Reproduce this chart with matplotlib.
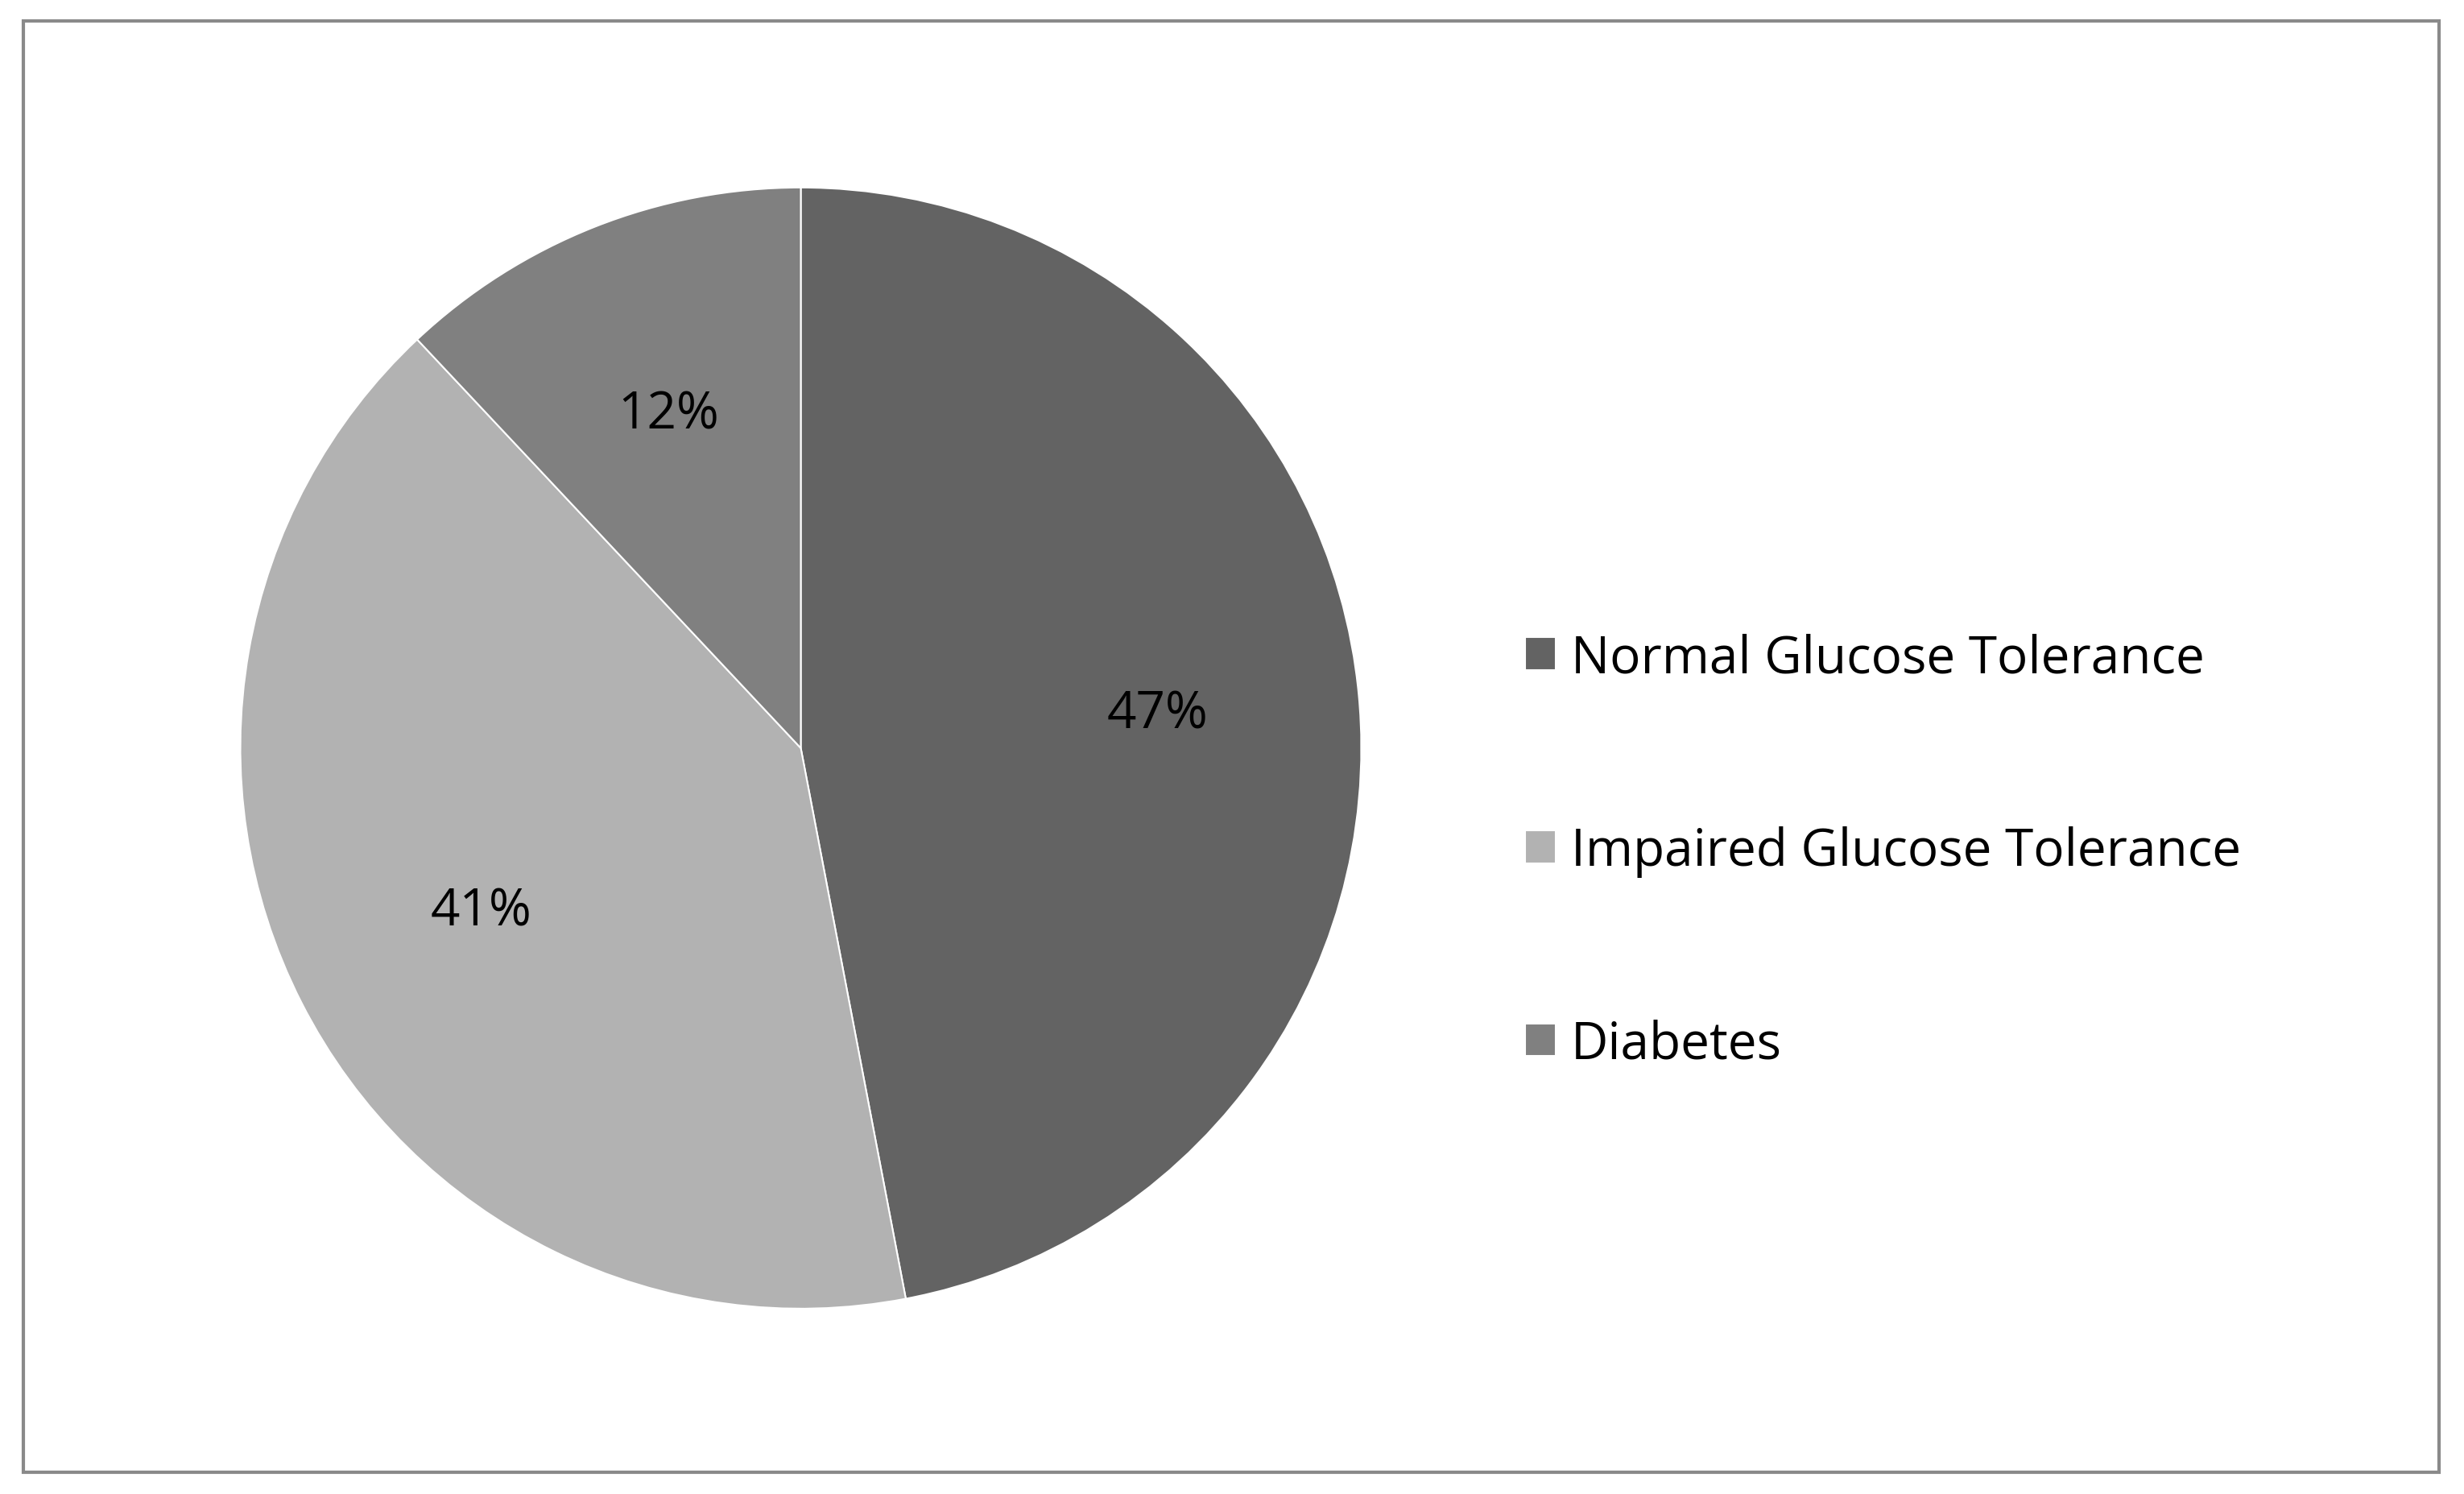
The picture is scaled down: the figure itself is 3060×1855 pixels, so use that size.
import matplotlib.pyplot as plt
from matplotlib.patches import Rectangle

labels = ['Normal Glucose Tolerance', 'Impaired Glucose Tolerance', 'Diabetes']
values = [47, 41, 12]
colors = ['#636363', '#b2b2b2', '#808080']

plt.rcParams['font.family'] = ['Open Sans', 'DejaVu Sans']

W, H = 30.6, 18.56
fig = plt.figure(figsize=(W, H), dpi=100)

# pie placement (fig fractions)
cx, cy = 0.325, 0.499
r_px = 0.375 * H * 100
rw, rh = r_px / (W * 100), r_px / (H * 100)
ax = fig.add_axes([cx - rw, cy - rh, 2 * rw, 2 * rh])
wedges, _, autotexts = ax.pie(values, colors=colors, startangle=90, counterclock=False,
                              autopct='%d%%', pctdistance=0.64, radius=1,
                              wedgeprops=dict(edgecolor='white', linewidth=1.5),
                              textprops=dict(fontsize=46, color='black'))
ax.set_xlim(-1, 1)
ax.set_ylim(-1, 1)
ax.set_aspect('equal')
ax.axis('off')

fig.legend(wedges, labels, loc='center left', bbox_to_anchor=(0.6, 0.43),
           frameon=False, fontsize=46, labelspacing=2.75,
           handlelength=0.6, handleheight=0.6, handletextpad=0.3)

fig.patches.append(Rectangle((0.0096, 0.0147), 0.9803, 0.9705, transform=fig.transFigure,
                             fill=False, edgecolor='#8a8a8a', linewidth=3))

fig.savefig('out.png', dpi=100)
